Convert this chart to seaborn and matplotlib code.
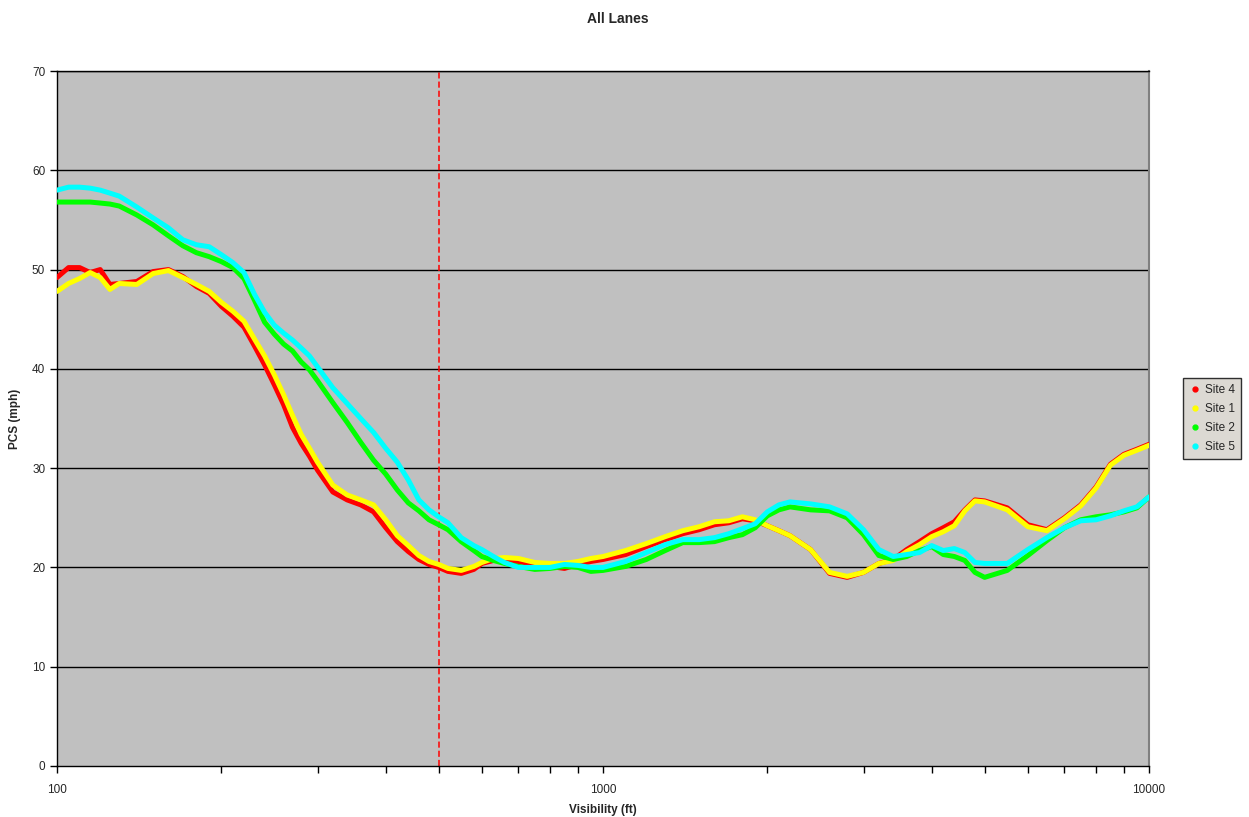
import matplotlib
matplotlib.use("Agg")
import matplotlib.pyplot as plt
from matplotlib.lines import Line2D
from matplotlib.ticker import LogLocator, NullFormatter, FixedLocator, FixedFormatter
import seaborn as sns
import pandas as pd
import numpy as np

visibility = [100, 105, 110, 115, 120, 125, 130, 140, 150, 160, 170, 180, 190, 200,
              210, 220, 230, 240, 250, 260, 270, 280, 290, 300, 320, 340, 360, 380,
              400, 420, 440, 460, 480, 500, 520, 550, 580, 600, 630, 660, 700, 750,
              800, 850, 900, 950, 1000, 1100, 1200, 1300, 1400, 1500, 1600, 1700,
              1800, 1900, 2000, 2100, 2200, 2400, 2600, 2800, 3000, 3200, 3400, 3600,
              3800, 4000, 4200, 4400, 4600, 4800, 5000, 5500, 6000, 6500, 7000, 7500,
              8000, 8500, 9000, 9500, 10000]

site4 = [49.2, 50.2, 50.2, 49.7, 50.0, 48.5, 48.6, 48.8, 49.8, 50.0, 49.3, 48.3, 47.6, 46.3,
         45.3, 44.2, 42.3, 40.4, 38.4, 36.4, 34.1, 32.5, 31.2, 29.8, 27.6, 26.8, 26.3, 25.6,
         24.0, 22.6, 21.6, 20.8, 20.3, 20.0, 19.6, 19.4, 19.8, 20.4, 20.7, 20.7, 20.6, 20.3,
         20.1, 19.9, 20.3, 20.6, 20.8, 21.3, 22.1, 22.8, 23.4, 23.8, 24.3, 24.5,
         24.9, 24.7, 24.2, 23.7, 23.2, 21.8, 19.4, 19.0, 19.5, 20.4, 20.8, 21.8,
         22.6, 23.4, 24.0, 24.6, 25.8, 26.8, 26.7, 26.0, 24.3, 23.8, 25.0, 26.3,
         28.1, 30.4, 31.4, 31.9, 32.4]

site1 = [47.8, 48.6, 49.1, 49.7, 49.2, 48.0, 48.6, 48.5, 49.6, 49.9, 49.2, 48.5, 47.8, 46.7,
         45.8, 44.8, 43.0, 41.3, 39.4, 37.4, 35.3, 33.4, 32.0, 30.6, 28.3, 27.3, 26.8, 26.3,
         24.8, 23.2, 22.2, 21.2, 20.6, 20.3, 19.9, 19.7, 20.1, 20.5, 20.9, 21.0, 20.9, 20.5,
         20.4, 20.4, 20.6, 20.9, 21.1, 21.7, 22.4, 23.1, 23.7, 24.1, 24.6, 24.7,
         25.1, 24.8, 24.2, 23.7, 23.2, 21.8, 19.5, 19.1, 19.5, 20.4, 20.7, 21.6,
         22.3, 23.1, 23.6, 24.2, 25.7, 26.7, 26.6, 25.8, 24.1, 23.7, 24.9, 26.2,
         28.0, 30.3, 31.3, 31.8, 32.3]

site2 = [56.8, 56.8, 56.8, 56.8, 56.7, 56.6, 56.4, 55.5, 54.5, 53.4, 52.4, 51.7, 51.3, 50.8,
         50.2, 49.1, 46.9, 44.7, 43.5, 42.5, 41.8, 40.7, 39.9, 38.8, 36.6, 34.6, 32.6, 30.8,
         29.4, 27.8, 26.5, 25.7, 24.8, 24.3, 23.8, 22.6, 21.7, 21.1, 20.7, 20.4, 20.1, 19.8,
         19.9, 20.1, 20.0, 19.6, 19.7, 20.1, 20.8, 21.7, 22.5, 22.5, 22.6, 23.0,
         23.3, 24.0, 25.2, 25.8, 26.1, 25.8, 25.7, 25.0, 23.3, 21.2, 20.8, 21.1,
         21.7, 22.1, 21.3, 21.1, 20.7, 19.5, 19.0, 19.7, 21.2, 22.7, 24.0, 24.8,
         25.1, 25.3, 25.6, 26.0, 27.1]

site5 = [58.0, 58.3, 58.3, 58.2, 58.0, 57.7, 57.4, 56.3, 55.2, 54.2, 53.0, 52.5, 52.3, 51.5,
         50.7, 49.7, 47.5, 45.7, 44.4, 43.6, 42.9, 42.1, 41.3, 40.2, 38.1, 36.5, 35.0, 33.6,
         32.0, 30.6, 28.8, 26.8, 25.8, 25.1, 24.5, 23.0, 22.2, 21.8, 21.1, 20.5, 20.0, 20.0,
         20.0, 20.3, 20.2, 20.0, 20.0, 20.6, 21.5, 22.3, 22.8, 22.8, 23.0, 23.4,
         23.9, 24.4, 25.6, 26.3, 26.6, 26.4, 26.1, 25.4, 23.8, 21.8, 21.1, 21.3,
         21.5, 22.2, 21.7, 21.9, 21.5, 20.5, 20.4, 20.4, 21.8, 23.0, 24.0, 24.7,
         24.8, 25.2, 25.7, 26.1, 27.1]

series_names = ["Site 4", "Site 1", "Site 2", "Site 5"]
series_colors = ["#FF0000", "#FFFF00", "#00FF00", "#00FFFF"]
threshold_ft = 500

df = pd.concat([
    pd.DataFrame({"Visibility": visibility, "PCS": vals, "Site": name})
    for name, vals in zip(series_names, [site4, site1, site2, site5])
], ignore_index=True)

sns.set_theme(style="white")
plt.rcParams["font.family"] = ["Liberation Sans", "DejaVu Sans"]

fig = plt.figure(figsize=(12.49, 8.17), dpi=100)
ax = fig.add_axes([57 / 1249, 51 / 817, (1149 - 57) / 1249, (766 - 71) / 817])
ax.set_facecolor("#C0C0C0")

ax.set_xscale("log")
ax.set_xlim(100, 10000)
ax.set_ylim(0, 70)

for yv in range(10, 80, 10):
    ax.axhline(yv, color="black", linewidth=1.0, zorder=1)

ax.axvline(threshold_ft, color="#FF0000", linewidth=1.1, linestyle=(0, (4, 2)), zorder=2)

palette = dict(zip(series_names, series_colors))
sns.lineplot(data=df, x="Visibility", y="PCS", hue="Site", hue_order=series_names,
             palette=palette, linewidth=3.6, sort=False, estimator=None,
             legend=False, ax=ax, zorder=3, solid_capstyle="round")

ax.xaxis.set_major_locator(FixedLocator([100, 1000, 10000]))
ax.xaxis.set_major_formatter(FixedFormatter(["100", "1000", "10000"]))
ax.xaxis.set_minor_locator(LogLocator(base=10, subs=np.arange(2, 10)))
ax.xaxis.set_minor_formatter(NullFormatter())
ax.set_yticks(range(0, 80, 10))

ax.tick_params(axis="x", which="major", direction="out", length=5, width=1, color="black",
               labelsize=8.5, pad=8, bottom=True)
ax.tick_params(axis="x", which="minor", direction="out", length=5, width=1, color="black",
               bottom=True)
ax.tick_params(axis="y", which="major", direction="out", length=5, width=1, color="black",
               labelsize=8.5, left=True)

for s in ["left", "bottom", "top"]:
    ax.spines[s].set_color("black")
    ax.spines[s].set_linewidth(1.0)
ax.spines["right"].set_color("#808080")
ax.spines["right"].set_linewidth(1.5)

ax.set_xlabel("Visibility (ft)", fontsize=8.5, fontweight="bold", labelpad=6)
ax.set_ylabel("PCS (mph)", fontsize=8.5, fontweight="bold", labelpad=8)
fig.suptitle("All Lanes", x=0.495, y=0.985, fontsize=10, fontweight="bold")

handles = [Line2D([0], [0], marker="o", linestyle="none", markersize=3.5,
                  markerfacecolor=c, markeredgecolor=c) for c in series_colors]
leg = fig.legend(handles, series_names, loc="upper left",
                 bbox_to_anchor=(1183 / 1249, 1 - 378 / 817), fontsize=8.5,
                 frameon=True, fancybox=False, handlelength=1.0, handletextpad=0.4,
                 borderpad=0.5, labelspacing=0.6, borderaxespad=0)
leg.get_frame().set_facecolor("#D4D0C8")
leg.get_frame().set_edgecolor("black")
leg.get_frame().set_linewidth(1.0)

fig.savefig("out.png", dpi=100)
